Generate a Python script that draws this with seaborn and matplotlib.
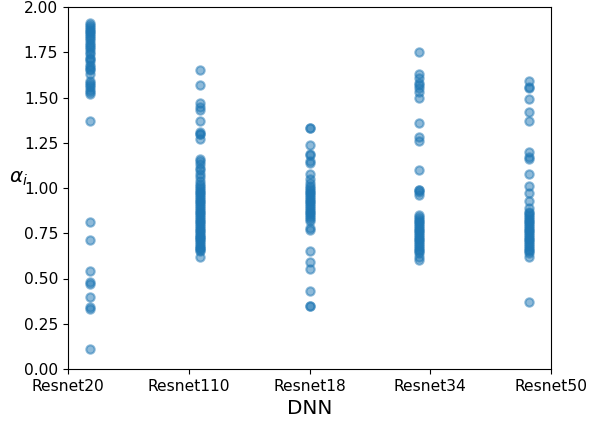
import numpy as np
import pandas as pd
import matplotlib
matplotlib.use("Agg")
import matplotlib.pyplot as plt
import seaborn as sns

models = ["Resnet20", "Resnet110", "Resnet18", "Resnet34", "Resnet50"]

alpha_resnet20 = [1.91, 1.90, 1.89, 1.88, 1.87, 1.86, 1.85, 1.84, 1.83, 1.82,
                  1.80, 1.79, 1.78, 1.77, 1.75, 1.74, 1.72, 1.71, 1.70, 1.68,
                  1.67, 1.66, 1.65, 1.63, 1.59, 1.58, 1.57, 1.56, 1.54, 1.53,
                  1.52, 1.37, 0.81, 0.71, 0.54, 0.48, 0.47, 0.40, 0.34, 0.33,
                  0.11]
alpha_resnet110 = [1.65, 1.57, 1.47, 1.45, 1.43, 1.37, 1.31, 1.30, 1.30, 1.27,
                   1.16, 1.15, 1.13, 1.11, 1.10, 1.08, 1.06, 1.04, 1.02, 1.01,
                   1.00, 0.99, 0.98, 0.97, 0.96, 0.95, 0.94, 0.93, 0.92, 0.91,
                   0.90, 0.89, 0.88, 0.87, 0.86, 0.85, 0.84, 0.83, 0.82, 0.81,
                   0.80, 0.79, 0.78, 0.77, 0.76, 0.75, 0.74, 0.73, 0.73, 0.72,
                   0.71, 0.70, 0.69, 0.68, 0.67, 0.67, 0.66, 0.65, 0.62]
alpha_resnet18 = [1.33, 1.33, 1.24, 1.19, 1.18, 1.15, 1.14, 1.08, 1.05, 1.03,
                  1.01, 1.00, 0.99, 0.98, 0.97, 0.96, 0.95, 0.94, 0.93, 0.92,
                  0.91, 0.90, 0.89, 0.88, 0.87, 0.86, 0.85, 0.84, 0.83, 0.82,
                  0.78, 0.77, 0.65, 0.59, 0.55, 0.43, 0.35, 0.35]
alpha_resnet34 = [1.75, 1.63, 1.61, 1.58, 1.57, 1.55, 1.53, 1.50, 1.36, 1.28,
                  1.26, 1.10, 0.99, 0.99, 0.98, 0.96, 0.85, 0.84, 0.83, 0.82,
                  0.81, 0.80, 0.79, 0.78, 0.77, 0.76, 0.75, 0.74, 0.73, 0.72,
                  0.71, 0.70, 0.69, 0.68, 0.67, 0.66, 0.65, 0.64, 0.62, 0.60]
alpha_resnet50 = [1.59, 1.56, 1.55, 1.49, 1.42, 1.37, 1.20, 1.17, 1.16, 1.08,
                  1.01, 0.97, 0.93, 0.89, 0.87, 0.86, 0.85, 0.84, 0.83, 0.82,
                  0.81, 0.80, 0.79, 0.78, 0.77, 0.76, 0.75, 0.74, 0.73, 0.72,
                  0.71, 0.70, 0.69, 0.68, 0.67, 0.66, 0.65, 0.64, 0.62, 0.37]

series = [alpha_resnet20, alpha_resnet110, alpha_resnet18, alpha_resnet34, alpha_resnet50]
frames = []
for i, (name, vals) in enumerate(zip(models, series)):
    frames.append(pd.DataFrame({"model": name, "pos": i, "alpha": vals}))
df = pd.concat(frames, ignore_index=True)

fig = plt.figure(figsize=(5.9, 4.22), dpi=100)
ax = fig.add_axes([68 / 590, 1 - 369 / 422, (551 - 68) / 590, (369 - 7) / 422])

sns.scatterplot(data=df, x="pos", y="alpha", color="#1f77b4", alpha=0.5,
                s=36, linewidth=1.5, edgecolor="#1f77b4", ax=ax, legend=False)

ax.set_xlim(-0.2, 4.2)
ax.set_xticks(np.linspace(-0.2, 4.2, 5))
ax.set_xticklabels(models, fontsize=11.2)
ax.set_ylim(0, 2)
ax.set_yticks(np.arange(0, 2.01, 0.25))
ax.set_yticklabels([f"{v:.2f}" for v in np.arange(0, 2.01, 0.25)], fontsize=11.2)
ax.set_xlabel("DNN", fontsize=14.4)
ax.set_ylabel(r"$\alpha_i$", fontsize=14.4, rotation=0)

fig.savefig("out.png", dpi=100)
